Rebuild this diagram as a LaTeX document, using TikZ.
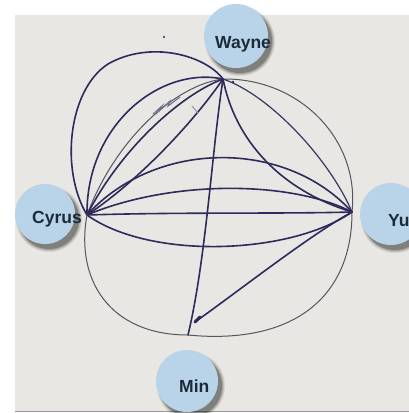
\documentclass[tikz,border=0pt]{standalone}
\usepackage{fontspec}
\setmainfont{Liberation Sans}
\definecolor{paper}{HTML}{E9E7E3}
\definecolor{inkc}{HTML}{2E2A5C}
\definecolor{pencil}{HTML}{55555F}
\definecolor{bubblec}{HTML}{B9D4E8}
\definecolor{labelc}{HTML}{1C2B3B}
\begin{document}
\begin{tikzpicture}[x=1pt,y=-1pt,
  ink/.style={draw=inkc, line width=1.6pt, line cap=round, line join=round},
  medium/.style={draw=inkc!75!pencil, line width=1.2pt, line cap=round},
  faint/.style={draw=pencil, line width=1pt, line cap=round},
  bubble/.style={circle, fill=bubblec, inner sep=0pt, minimum size=#1},
  shade/.style={fill=black, opacity=#1},
  tag/.style={anchor=base west, text=labelc, inner sep=0pt,
    font=\fontsize{17.5}{20}\selectfont\bfseries}]
\useasboundingbox (0,0) rectangle (409,413);
\clip (0,0) rectangle (409,413);

% sheet of paper
\fill[paper] (15,15) rectangle (409,411);
\draw[gray!80, line width=1pt] (15,411.5) -- (409,411.5);

% pen vertices
\coordinate (w) at (223,79);
\coordinate (c) at (87,215);
\coordinate (y) at (352,212);
\coordinate (m) at (188,335);
\coordinate (mtip) at (195,322);

% Wayne -- Cyrus
\draw[ink] (w) .. controls (205,55) and (150,40) .. (108,64)
               .. controls (68,90) and (60,170) .. (c);
\draw[ink] (w) .. controls (160,66) and (86,125) .. (c);
\draw[faint] (w) .. controls (175,85) and (115,140) .. (c);
\draw[ink] (w) .. controls (180,95) and (120,150) .. (c);
\draw[ink] (w) .. controls (195,120) and (140,180) .. (c);

% Wayne -- Min
\draw[ink] (w) .. controls (212,150) and (206,260) .. (m);

% Wayne -- Yu
\draw[faint] (w) .. controls (300,78) and (360,140) .. (y);
\draw[medium] (w) .. controls (270,95) and (330,160) .. (y);
\draw[ink] (w) .. controls (235,140) and (280,190) .. (y);

% Cyrus -- Yu
\draw[ink] (c) .. controls (155,140) and (285,138) .. (y);
\draw[ink] (c) .. controls (170,180) and (290,180) .. (y);
\draw[ink] (c) .. controls (180,212) and (280,214) .. (y);
\draw[ink] (c) .. controls (150,260) and (290,255) .. (y);

% Yu -- Min and the lower loop
\draw[faint] (y) .. controls (352,300) and (290,345) .. (m);
\draw[faint] (m) .. controls (110,335) and (75,280) .. (c);
\draw[ink] (y) .. controls (310,235) and (240,290) .. (mtip);
\draw[ink, line width=3pt] (mtip) -- ++(5,-5);

% stray pen marks
\draw[faint, draw=inkc!70] (153,114) -- (162,106) -- (158,112) -- (170,101) -- (168,106) -- (180,97);
\draw[faint, draw=pencil!60] (192,106) -- (198,113);
\fill[inkc] (164,37) circle (1.2);
\fill[inkc] (233,82) circle (1.3);

% name bubbles with soft shadows
\foreach \cx/\cy/\r in {236/36/32, 45/214/30, 391/214/31, 187/381/31}{
  \foreach \k/\o in {3/0.08, 2/0.1, 1/0.14, 0/0.22}
    \fill[shade=\o] (\cx+4,\cy+5) circle (\r+\k);
}
\node[bubble=64pt] (wayneDisc) at (236,36) {};
\node[bubble=60pt] (cyrusDisc) at (45,214) {};
\node[bubble=62pt] (yuDisc) at (391,214) {};
\node[bubble=62pt] (minDisc) at (187,381) {};

\node[tag] (wayne) at (215,48) {Wayne};
\node[tag] (cyrus) at (32,223) {Cyrus};
\node[tag] (yu) at (388,226) {Yu};
\node[tag] (min) at (179,392) {Min};
\end{tikzpicture}
\end{document}
